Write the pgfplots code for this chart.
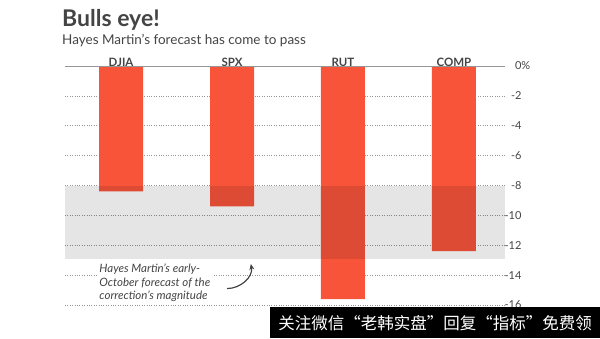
\documentclass[border=0pt]{standalone}
\usepackage{pgfplots}
\pgfplotsset{compat=1.18}
\usepackage{fontspec}
\setmainfont{Lato}
\newfontfamily\cjk{Noto Sans CJK SC}
\usetikzlibrary{arrows.meta}
\definecolor{barred}{RGB}{247,84,58}
\definecolor{txt}{RGB}{68,68,68}
\definecolor{gridc}{RGB}{150,150,150}
\begin{document}
\begin{tikzpicture}[x=1pt,y=1pt]
\begin{axis}[
  scale only axis, width=440pt, height=239pt,
  xmin=-0.505, xmax=3.46, ymin=-16, ymax=0,
  clip=false,
  axis line style={draw=none}, tick style={draw=none},
  xtick={0,1,2,3}, xticklabels={DJIA,SPX,RUT,COMP},
  xticklabel pos=top,
  xticklabel style={font=\fontsize{11.5}{12}\selectfont\bfseries, text=txt, yshift=-4pt},
  ytick={0,-2,-4,-6,-8,-10,-12,-14,-16},
  yticklabels={0\rlap{\%},-2,-4,-6,-8,-10,-12,-14,-16},
  yticklabel pos=right,
  yticklabel style={font=\fontsize{11}{12}\selectfont, text=txt, anchor=east, xshift=20pt},
  ymajorgrids, grid style={gridc, dotted, line width=0.6pt},
]
\addplot[ybar, bar width=44pt, fill=barred, draw=none] coordinates {(0,-8.4) (1,-9.4) (2,-15.6) (3,-12.4)};
\addplot[fill=black, fill opacity=0.1, draw=none] coordinates {(-0.505,-8) (3.46,-8) (3.46,-12.95) (-0.505,-12.95)} -- cycle;
\addplot[gridc, line width=0.8pt] coordinates {(-0.505,0) (3.46,0)};
\node[anchor=north west, fill=white, inner sep=1.5pt, align=left, text=txt,
  font=\fontsize{11.5}{13.5}\selectfont\itshape] at (axis cs:-0.21,-13.15)
  {Hayes Martin’s early-\\October forecast of the\\correction’s magnitude};
\draw[-{Stealth[length=6pt,width=5pt]}, line width=1.2pt, txt]
  (axis cs:0.955,-14.9) to[out=0, in=-80] (axis cs:1.17,-13.25);
\end{axis}
\node[anchor=base west, inner sep=0, text=txt, font=\fontsize{23}{25}\selectfont\bfseries] at (-3,239+39) {Bulls eye!};
\node[anchor=base west, inner sep=0, text=txt, font=\fontsize{13.5}{15}\selectfont] at (-3,239+22) {Hayes Martin’s forecast has come to pass};
\fill[black] (205,-33) rectangle (535,-2);
\node[anchor=center, inner sep=0, text=white, font=\cjk\fontsize{16.5}{18}\selectfont] at (370,-18) {关注微信“老韩实盘”回复“指标”免费领};
\path[use as bounding box] (-65,-33) rectangle (535,305);
\end{tikzpicture}
\end{document}
